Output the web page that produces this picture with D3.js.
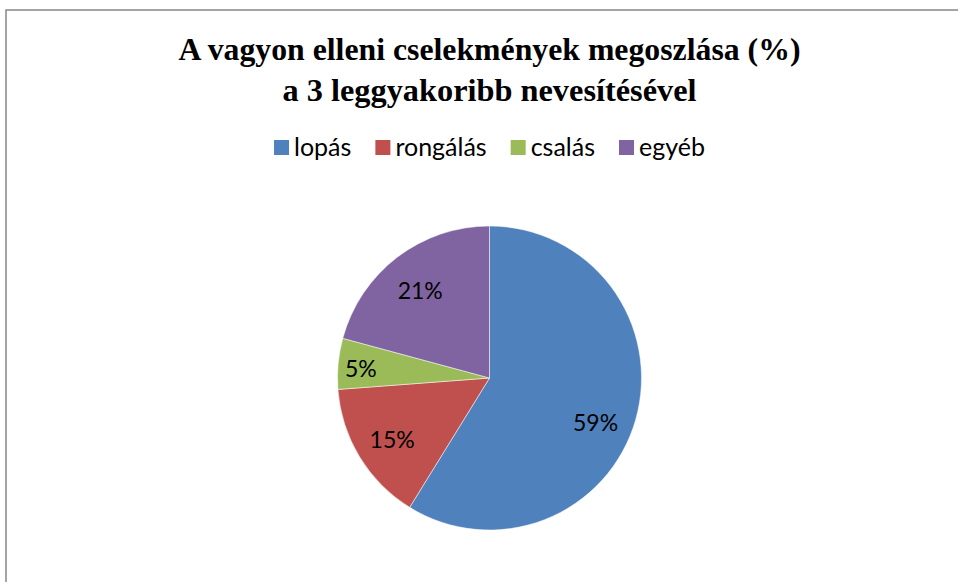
<!DOCTYPE html>
<meta charset="utf-8">
<script src="https://d3js.org/d3.v7.min.js"></script>
<style>
	body{
		margin:0;
		background:#fff;
	}
	svg text{
		fill:#000;
	}
</style>
<div id="chart"></div>
<script>
	var titleLines = ["A vagyon elleni cselekmények megoszlása (%)", "a 3 leggyakoribb nevesítésével"]
	var categories = ["lopás", "rongálás", "csalás", "egyéb"]
	var values = [58.8, 15.0, 5.4, 20.8]
	var colors = ["#4F81BD", "#C0504D", "#9BBB59", "#8064A2"]

	var w = 958
	var h = 582
	var cx = 489.5
	var cy = 378
	var r = 152

	var svg = d3.select("#chart").append("svg").attr("width", w).attr("height", h)

	// chart border (the right and bottom edges fall outside the window)
	svg.append("rect")
		.attr("x", 6).attr("y", 10)
		.attr("width", w).attr("height", h)
		.attr("fill", "none")
		.attr("stroke", "#878787")
		.attr("stroke-width", 1.5)

	var titleY = [60, 101]
	var titleW = [622, 414]
	svg.selectAll(".title")
		.data(titleLines)
		.enter()
		.append("text")
		.attr("class", "title")
		.attr("x", cx)
		.attr("y", function(d, i){ return titleY[i] })
		.attr("text-anchor", "middle")
		.style("font-family", "'Liberation Serif', 'Times New Roman', serif")
		.style("font-weight", "bold")
		.style("font-size", "31px")
		.attr("textLength", function(d, i){ return titleW[i] })
		.attr("lengthAdjust", "spacingAndGlyphs")
		.text(function(d){ return d })

	// legend
	var legend = svg.append("g")
	var lx = 0
	categories.forEach(function(c, i){
		var g = legend.append("g").attr("transform", "translate(" + lx + ",0)")
		g.append("rect").attr("x", 0).attr("y", -16).attr("width", 15).attr("height", 15).attr("fill", colors[i])
		var t = g.append("text").attr("x", 20).attr("y", 0)
			.style("font-family", "Lato, sans-serif")
			.style("font-size", "25px")
			.text(c)
		lx += 20 + t.node().getComputedTextLength() + 24
	})
	lx -= 24
	legend.attr("transform", "translate(" + (cx - lx / 2) + ",156)")

	// pie
	var pie = d3.pie().sort(null).value(function(d){ return d })
	var arc = d3.arc().innerRadius(0).outerRadius(r)
	var arcs = pie(values)

	var pg = svg.append("g").attr("transform", "translate(" + cx + "," + cy + ")")
	pg.selectAll(".slice")
		.data(arcs)
		.enter()
		.append("path")
		.attr("class", "slice")
		.attr("d", arc)
		.attr("fill", function(d, i){ return colors[i] })
		.attr("stroke", "#fff")
		.attr("stroke-width", 0.5)

	pg.selectAll(".lbl")
		.data(arcs)
		.enter()
		.append("text")
		.attr("class", "lbl")
		.attr("transform", function(d){
			var lr = d.value < 10 ? r * 0.85 : r * 0.75
			var a = (d.startAngle + d.endAngle) / 2
			if (d.value > 50) a += 0.1
			return "translate(" + (Math.sin(a) * lr) + "," + (-Math.cos(a) * lr) + ")"
		})
		.attr("text-anchor", "middle")
		.attr("dy", "0.48em")
		.style("font-family", "Lato, sans-serif")
		.style("font-size", "23px")
		.text(function(d){ return Math.round(d.value) + "%" })
</script>
